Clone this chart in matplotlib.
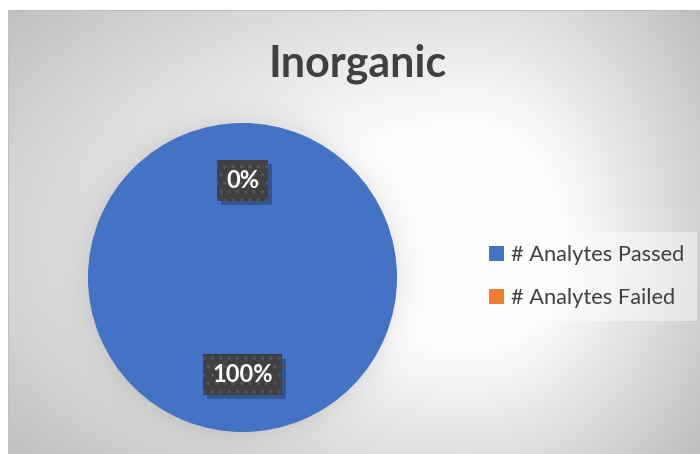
import numpy as np
import matplotlib.pyplot as plt
import matplotlib.patheffects as pe

plt.rcParams['font.family'] = ['Lato', 'DejaVu Sans']
plt.rcParams['hatch.linewidth'] = 1.4

title = 'Inorganic'
labels = ['# Analytes Passed', '# Analytes Failed']
counts = [100, 0]
colors = ['#4472C4', '#ED7D31']

W, H = 700, 454
fig = plt.figure(figsize=(W / 100, H / 100), dpi=100)

# background: light radial gradient + soft shadow around the pie
bg = fig.add_axes([0, 0, 1, 1])
bg.set_axis_off()
yy, xx = np.mgrid[0:H, 0:W] + 0.5
cx, cy = 470, 245
sx = np.where(xx < cx, 520, 250)
sy = np.where(yy < cy, 320, 280)
t = np.sqrt(((xx - cx) / sx) ** 2 + ((yy - cy) / sy) ** 2)
val = 1 - 0.20 * np.clip((t - 0.35) / 0.65, 0, 1.25)
pcx, pcy, pr = 242.5, 277.5, 154.5
d = np.hypot(xx - pcx, yy - pcy)
val -= 0.07 * np.exp(-np.clip(d - pr, 0, None) / 14) * (d > pr - 2)
val[:10, :] = 1.0
val[:, :8] = 1.0
val[10, 8:] = 0.74
val[10:, 8] = 0.76
img = np.dstack([val, val, val])
bg.imshow(img, extent=(0, W, H, 0), interpolation='bilinear')
bg.set_xlim(0, W)
bg.set_ylim(H, 0)

# pie
ax = fig.add_axes([(pcx - pr) / W, (H - pcy - pr) / H, 2 * pr / W, 2 * pr / H])
wedges, texts, autotexts = ax.pie(
    counts, colors=colors, startangle=90, counterclock=False,
    autopct=lambda p: f'{p:.0f}%', pctdistance=0.63,
    textprops=dict(color='white', fontsize=17, fontweight='bold'))
ax.set_xlim(-1, 1)
ax.set_ylim(-1, 1)
ax.set_aspect('equal')

for at in autotexts:
    at.set_bbox(dict(boxstyle='square,pad=0.38', facecolor='#404040',
                     edgecolor='#545454', linewidth=0, hatch='..'))
    at.get_bbox_patch().set_path_effects(
        [pe.SimplePatchShadow(offset=(3, -3), shadow_rgbFace='#1f3a66', alpha=0.5),
         pe.Normal()])

fig.text(358 / W, 1 - 77 / H, title, ha='center', va='baseline',
         fontsize=31, fontweight='bold', color='#404040')

leg = fig.legend(wedges, labels, loc='upper left',
                 bbox_to_anchor=(476 / W, 1 - 232 / H),
                 fontsize=15.7, frameon=True, fancybox=False,
                 borderpad=0.6, labelspacing=1.05, handlelength=0.7,
                 handleheight=0.7, handletextpad=0.3, borderaxespad=0)
leg.get_frame().set_facecolor('white')
leg.get_frame().set_alpha(0.45)
leg.get_frame().set_edgecolor('none')
for txt in leg.get_texts():
    txt.set_color('#404040')

fig.savefig('out.png', dpi=100)
